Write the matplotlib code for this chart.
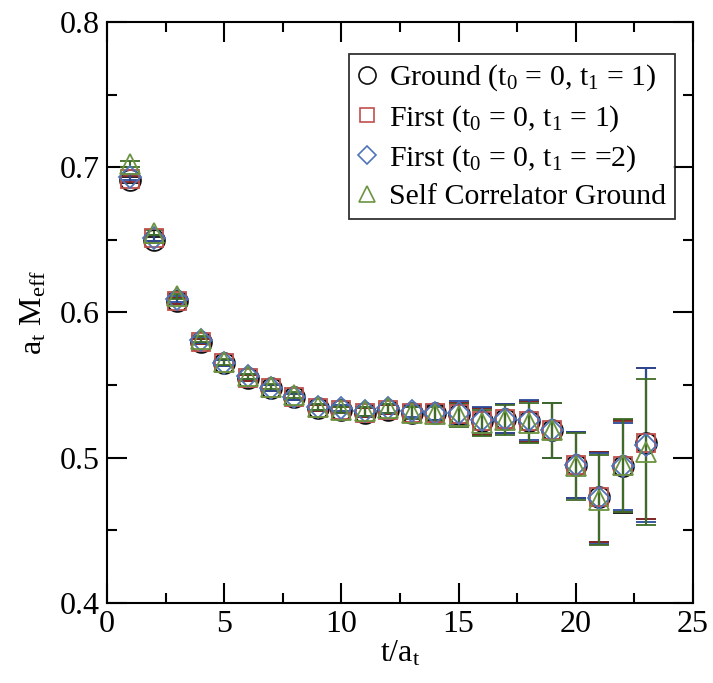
import matplotlib
matplotlib.use("Agg")
import matplotlib.pyplot as plt
from matplotlib.lines import Line2D
from matplotlib.ticker import MultipleLocator

plt.rcParams['font.family'] = ['Liberation Serif', 'DejaVu Serif']
plt.rcParams['mathtext.fontset'] = 'custom'
plt.rcParams['mathtext.rm'] = 'Liberation Serif'
plt.rcParams['mathtext.it'] = 'Liberation Serif'

t = [1, 2, 3, 4, 5, 6, 7, 8, 9, 10, 11, 12, 13, 14, 15, 16, 17, 18, 19, 20, 21, 22, 23]

ground_y = [0.691, 0.650, 0.608, 0.580, 0.565, 0.555, 0.548, 0.542, 0.534, 0.533, 0.531, 0.533, 0.531,
            0.531, 0.530, 0.525, 0.527, 0.525, 0.519, 0.495, 0.473, 0.494, 0.510]
ground_e = [0.002, 0.002, 0.002, 0.002, 0.002, 0.002, 0.002, 0.002, 0.002, 0.002, 0.003, 0.003, 0.004,
            0.005, 0.008, 0.009, 0.010, 0.014, 0.019, 0.023, 0.031, 0.032, 0.052]

first1_y = [0.692, 0.651, 0.608, 0.580, 0.565, 0.555, 0.548, 0.542, 0.534, 0.533, 0.531, 0.533, 0.531,
            0.531, 0.530, 0.525, 0.527, 0.525, 0.519, 0.495, 0.473, 0.494, 0.510]
first1_e = [0.002, 0.002, 0.002, 0.002, 0.002, 0.002, 0.002, 0.002, 0.002, 0.002, 0.003, 0.003, 0.004,
            0.005, 0.008, 0.009, 0.010, 0.014, 0.019, 0.023, 0.031, 0.031, 0.052]

first2_y = [0.693, 0.651, 0.609, 0.581, 0.565, 0.556, 0.548, 0.542, 0.535, 0.534, 0.532, 0.534, 0.532,
            0.531, 0.531, 0.526, 0.527, 0.526, 0.519, 0.495, 0.472, 0.494, 0.509]
first2_e = [0.002, 0.002, 0.002, 0.002, 0.002, 0.002, 0.002, 0.002, 0.002, 0.002, 0.003, 0.003, 0.004,
            0.005, 0.008, 0.009, 0.010, 0.014, 0.019, 0.023, 0.031, 0.030, 0.053]

self_y = [0.702, 0.655, 0.611, 0.582, 0.566, 0.556, 0.549, 0.543, 0.535, 0.533, 0.532, 0.534, 0.531,
          0.530, 0.529, 0.524, 0.526, 0.524, 0.519, 0.494, 0.471, 0.495, 0.504]
self_e = [0.002, 0.002, 0.002, 0.002, 0.002, 0.002, 0.002, 0.002, 0.002, 0.002, 0.003, 0.003, 0.004,
          0.005, 0.008, 0.009, 0.010, 0.014, 0.019, 0.023, 0.031, 0.032, 0.050]

labels = [r"Ground (t$_0$ = 0, t$_1$ = 1)",
          r"First (t$_0$ = 0, t$_1$ = 1)",
          r"First (t$_0$ = 0, t$_1$ = =2)",
          "Self Correlator Ground"]

fig = plt.figure(figsize=(7.13, 6.83), dpi=100)
ax = fig.add_axes([0.150, 0.117, 0.822, 0.851])

series = [
    (ground_y, ground_e, 'o', '#111111', '#111111', 15),
    (first1_y, first1_e, 's', '#c0504d', '#8a2a28', 13),
    (first2_y, first2_e, 'D', '#4f74b8', '#2a4a9a', 11),
    (self_y, self_e, '^', '#6b9440', '#3e6b26', 14),
]

handles = []
for (y, e, m, c, ec, ms), lab in zip(series, labels):
    ax.errorbar(t, y, yerr=e, fmt=m, mfc='none', mec=c, ms=ms, mew=1.3,
                ecolor=ec, elinewidth=1.5, capsize=7.5, capthick=2.5, zorder=3)
    handles.append(Line2D([], [], ls='none', marker=m, mfc='none', mec=c, ms=ms * 0.82, mew=1.2, label=lab))

ax.set_xlim(0, 25)
ax.set_ylim(0.4, 0.8)
ax.xaxis.set_major_locator(MultipleLocator(5))
ax.xaxis.set_minor_locator(MultipleLocator(2.5))
ax.yaxis.set_major_locator(MultipleLocator(0.1))
ax.yaxis.set_minor_locator(MultipleLocator(0.05))
ax.tick_params(which='both', direction='in', top=True, right=True, width=1.5, labelsize=23)
ax.tick_params(which='major', length=14.5, pad=5)
ax.tick_params(which='minor', length=7.2)
for s in ax.spines.values():
    s.set_linewidth(1.5)

ax.set_xlabel(r"t/a$_\mathrm{t}$", fontsize=23, labelpad=0)
ax.set_ylabel(r"a$_\mathrm{t}$ M$_\mathrm{eff}$", fontsize=23, labelpad=8)

leg = ax.legend(handles=handles, loc='upper right', bbox_to_anchor=(0.969, 0.945),
                fontsize=21.5, frameon=True, fancybox=False, edgecolor='black',
                handlelength=0.6, handletextpad=0.45, borderpad=0.3, labelspacing=0.32,
                borderaxespad=0)
leg.get_frame().set_linewidth(1.3)

fig.savefig("out.png", dpi=100)
